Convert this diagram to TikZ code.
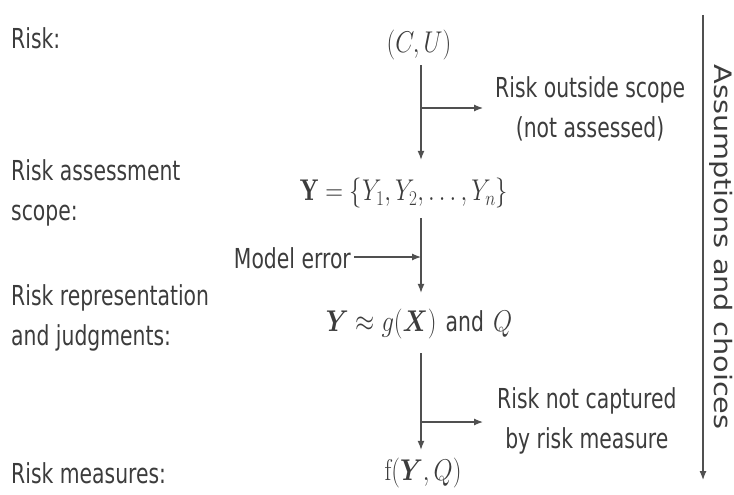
\RequirePackage{fix-cm}
\documentclass[tikz,border=0pt]{standalone}
\usepackage{amsmath,bm}
\usepackage{fontspec}
\usetikzlibrary{arrows.meta}
\newfontfamily\labelfont[FakeStretch=0.74]{DejaVu Sans}
\newfontfamily\sidefont[FakeStretch=1.2]{DejaVu Sans}
\definecolor{ink}{HTML}{3C3C3C}
\definecolor{wire}{HTML}{505050}
% narrow math, set a little condensed
\newcommand{\nmath}[1]{\scalebox{0.82}[1]{$#1$}}
\begin{document}
\begin{tikzpicture}[x=1pt,y=-1pt,
  txt/.style={inner sep=0pt,text=ink,font=\labelfont\fontsize{27.5}{40}\selectfont},
  stage/.style={txt,anchor=west,align=left},
  expr/.style={inner sep=0pt,text=ink,font=\fontsize{30}{34}\selectfont},
  flow/.style={draw=wire,line width=1.2pt,-{Latex[length=9pt,width=7pt]}},
  side/.style={txt,align=center}]
\useasboundingbox (0,0) rectangle (734,495);

% stage names on the left
\node[stage] (l1) at (11,38) {Risk:};
\node[stage] (l2) at (11,193) {Risk assessment\\scope:};
\node[stage] (l3) at (11,318) {Risk representation\\and judgments:};
\node[stage] (l4) at (11,473) {Risk measures:};

% expressions along the main flow
\node[expr] (e1) at (419,45) {\nmath{(C,U)}};
\node[expr] (e2) at (404,193) {\nmath{\mathbf{Y}=\{Y_1,Y_2,\dots,Y_n\}}};
\node[expr] (e3) at (419,324) {\nmath{\bm{Y}\approx g(\bm{X})} {\labelfont\fontsize{27.5}{30}\selectfont and} \nmath{Q}};
\node[expr] (e4) at (423,473) {\nmath{\mathrm{f}(\bm{Y},Q)}};

% side notes
\node[side,anchor=west] (s1) at (495,109) {Risk outside scope\\(not assessed)};
\node[side,anchor=east] (s2) at (351,258) {Model error};
\node[side,anchor=west] (s3) at (497,421) {Risk not captured\\by risk measure};

% main arrows
\coordinate (b1) at (421,108);
\coordinate (b2) at (421,257);
\coordinate (b3) at (421,422);
\draw[flow,shorten <=5pt,shorten >=18pt] (e1.south -| b1) -- (e2.north -| b1);
\draw[flow,shorten <=10pt,shorten >=16pt] (e2.south -| b1) -- (e3.north -| b1);
\draw[flow,shorten <=14pt,shorten >=8pt] (e3.south -| b1) -- (e4.north -| b1);

% branches
\draw[flow] (b1) -- ([xshift=-12pt]s1.west |- b1);
\draw[flow] ([xshift=3pt]s2.east |- b2) -- (b2);
\draw[flow] (b3) -- ([xshift=-14pt]s3.west |- b3);

% assumptions and choices
\coordinate (a0) at (703,15);
\coordinate (a1) at (703,480);
\draw[flow] (a0) -- (a1);
\node[txt,font=\sidefont\fontsize{24}{30}\selectfont,rotate=-90] (ac) at (721,247) {Assumptions and choices};
\end{tikzpicture}
\end{document}
